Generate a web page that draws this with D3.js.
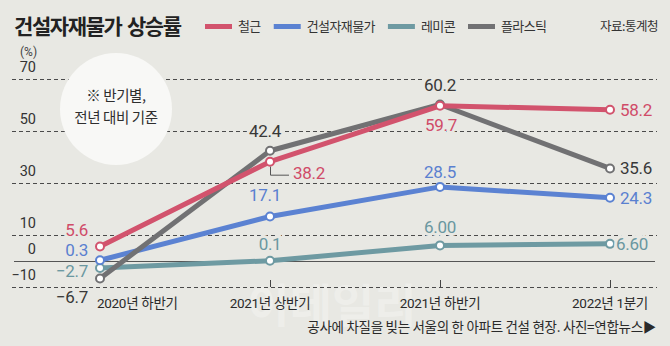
<!DOCTYPE html>
<html>
<head>
<meta charset="utf-8">
<script src="https://cdn.jsdelivr.net/npm/d3@7"></script>
<style>
  html, body { margin: 0; padding: 0; background: #e8e8e3; }
  svg { display: block; }
</style>
</head>
<body>
<svg id="chart"></svg>
<script>
// chart data
var categories = ['2020년 하반기', '2021년 상반기', '2021년 하반기', '2022년 1분기']
var seriesNames = ['철근', '건설자재물가', '레미콘', '플라스틱']
var rebar     = [5.6, 38.2, 59.7, 58.2]
var materials = [0.3, 17.1, 28.5, 24.3]
var remicon   = [-2.7, 0.1, 6.00, 6.60]
var plastic   = [-6.7, 42.4, 60.2, 35.6]
var remiconDigits = [1, 1, 2, 2]
var yTicks = [70, 50, 30, 10, 0, -10]

var W = 670, H = 346
var BG = '#e8e8e3'
var colors = { '철근':'#d2536d', '건설자재물가':'#5b82d2', '레미콘':'#6e9aa2', '플라스틱':'#717173' }
var labelColors = { '철근':'#d04b68', '건설자재물가':'#5a80d0', '레미콘':'#6a97a0', '플라스틱':'#383838' }
var NUM_FONT = "Roboto, 'Noto Sans CJK KR', sans-serif"
var KR_FONT = "'Noto Sans CJK KR', sans-serif"

var svg = d3.select('#chart').attr('width', W).attr('height', H)
svg.append('rect').attr('width', W).attr('height', H).attr('fill', BG)

var x = d3.scalePoint().domain(categories).range([100, 610])
var y = d3.scaleLinear().domain([0, 70]).range([261, 261 - 182])

// faint publisher watermark
svg.append('text')
    .attr('x', 332).attr('y', 322)
    .attr('text-anchor', 'middle')
    .attr('font-family', KR_FONT).attr('font-weight', 700)
    .attr('font-size', 46)
    .attr('fill', '#ffffff').attr('opacity', 0.28)
    .text('이데일리')

// gridlines
var grid = svg.append('g')
yTicks.forEach(function(t) {
    if (t === 0) return
    grid.append('line')
        .attr('x1', 12).attr('x2', 657)
        .attr('y1', y(t) + 0.5).attr('y2', y(t) + 0.5)
        .attr('stroke', '#4a4a4a').attr('stroke-width', 1)
        .attr('stroke-dasharray', '4,3')
})
grid.append('line')
    .attr('x1', 14).attr('x2', 655)
    .attr('y1', y(0) + 0.5).attr('y2', y(0) + 0.5)
    .attr('stroke', '#555').attr('stroke-width', 1.2)

// y tick labels
svg.append('g').selectAll('text').data(yTicks).enter().append('text')
    .attr('x', 36).attr('y', function(t) { return y(t) - 7 })
    .attr('text-anchor', 'end')
    .attr('font-family', NUM_FONT).attr('font-size', 14.5)
    .attr('fill', '#333')
    .text(function(t) { return t < 0 ? '−' + Math.abs(t) : t })

svg.append('text')
    .attr('x', 20).attr('y', 56)
    .attr('font-family', NUM_FONT).attr('font-size', 12)
    .attr('fill', '#444').text('(%)')

// x ticks + labels
categories.forEach(function(c, i) {
    if (i > 0) {
        svg.append('line')
            .attr('x1', x(c) + 0.5).attr('x2', x(c) + 0.5)
            .attr('y1', y(-10) - 7).attr('y2', y(-10))
            .attr('stroke', '#444').attr('stroke-width', 1)
    }
    svg.append('text')
        .attr('x', i === 0 ? 97 : x(c))
        .attr('y', 308)
        .attr('text-anchor', i === 0 ? 'start' : 'middle')
        .attr('font-family', NUM_FONT).attr('font-size', 13.5)
        .attr('letter-spacing', -0.3)
        .attr('fill', '#2a2a2a')
        .text(c)
})

// note bubble
svg.append('circle')
    .attr('cx', 116).attr('cy', 109).attr('r', 56)
    .attr('fill', '#f8f8f6')
svg.append('text')
    .attr('x', 116).attr('y', 101).attr('text-anchor', 'middle')
    .attr('font-family', KR_FONT).attr('font-size', 14.5)
    .attr('letter-spacing', -0.4).attr('fill', '#2e2e2e')
    .text('※ 반기별,')
svg.append('text')
    .attr('x', 116).attr('y', 123).attr('text-anchor', 'middle')
    .attr('font-family', KR_FONT).attr('font-size', 14.5)
    .attr('letter-spacing', -0.4).attr('fill', '#2e2e2e')
    .text('전년 대비 기준')

// series, drawn bottom to top
var series = [
    { name:'레미콘', values:remicon },
    { name:'건설자재물가', values:materials },
    { name:'플라스틱', values:plastic },
    { name:'철근', values:rebar }
]

// label placement per series: [anchor, dx, dy] for each point
var labelPos = {
    '철근':        [['end', -12, -10], ['start', 23, 17], ['start', -15, 25], ['start', 10, 6]],
    '건설자재물가': [['end', -12, -4], ['middle', -5, -16], ['middle', 0, -9], ['start', 10, 6]],
    '레미콘':       [['end', -12, 9], ['middle', 0, -11], ['middle', 0, -12], ['start', 6, 6]],
    '플라스틱':     [['end', -12, 25], ['middle', -5, -14], ['middle', 0, -13], ['start', 10, 6]]
}

var line = d3.line()
    .x(function(d, i) { return x(categories[i]) })
    .y(function(d) { return y(d) })

var labelLayer = svg.append('g')

series.forEach(function(s) {
    var g = svg.append('g')
    g.append('path')
        .datum(s.values)
        .attr('d', line)
        .attr('fill', 'none')
        .attr('stroke', colors[s.name])
        .attr('stroke-width', 5)
        .attr('stroke-linejoin', 'round')
    g.selectAll('circle').data(s.values).enter().append('circle')
        .attr('cx', function(d, i) { return x(categories[i]) })
        .attr('cy', function(d) { return y(d) })
        .attr('r', 4)
        .attr('fill', '#fff')
        .attr('stroke', colors[s.name])
        .attr('stroke-width', 2)

    s.values.forEach(function(v, i) {
        var p = labelPos[s.name][i]
        var digits = s.name === '레미콘' ? remiconDigits[i] : 1
        var txt = (v < 0 ? '−' : '') + Math.abs(v).toFixed(digits)
        labelLayer.append('text')
            .attr('x', x(categories[i]) + p[1])
            .attr('y', y(v) + p[2])
            .attr('text-anchor', p[0])
            .attr('font-family', NUM_FONT).attr('font-size', 17)
            .attr('letter-spacing', -0.3)
            .attr('fill', labelColors[s.name])
            .attr('stroke', BG).attr('stroke-width', 6)
            .attr('paint-order', 'stroke')
            .text(txt)
    })
})

// leader for the 2021 first-half rebar value
var lx = x(categories[1]), ly = y(rebar[1])
labelLayer.append('path')
    .attr('d', 'M' + (lx + 0.5) + ',' + (ly + 5) + 'V' + (ly + 13.5) + 'H' + (lx + 19))
    .attr('fill', 'none').attr('stroke', '#555').attr('stroke-width', 1)

labelLayer.raise()
// keep markers above the label halos
svg.selectAll('g circle').raise()

// title
svg.append('text')
    .attr('x', 14).attr('y', 34)
    .attr('font-family', KR_FONT).attr('font-weight', 700)
    .attr('font-size', 21).attr('letter-spacing', -1.4)
    .attr('word-spacing', 2)
    .attr('fill', '#222')
    .text('건설자재물가 상승률')

// legend
var lgX = 205
seriesNames.forEach(function(n) {
    svg.append('line')
        .attr('x1', lgX).attr('x2', lgX + 27)
        .attr('y1', 26.5).attr('y2', 26.5)
        .attr('stroke', colors[n]).attr('stroke-width', 5)
    var t = svg.append('text')
        .attr('x', lgX + 33).attr('y', 31)
        .attr('font-family', KR_FONT).attr('font-size', 13)
        .attr('letter-spacing', -0.6)
        .attr('fill', '#333')
        .text(n)
    lgX += 33 + t.node().getComputedTextLength() + 13
})
svg.append('text')
    .attr('x', 658).attr('y', 31)
    .attr('text-anchor', 'end')
    .attr('font-family', KR_FONT).attr('font-size', 12.5)
    .attr('letter-spacing', -0.5)
    .attr('fill', '#333')
    .text('자료:통계청')

// photo caption
svg.append('text')
    .attr('x', 656).attr('y', 332)
    .attr('text-anchor', 'end')
    .attr('font-family', KR_FONT).attr('font-size', 13.5)
    .attr('letter-spacing', -0.3)
    .attr('fill', '#2a2a2a')
    .text('공사에 차질을 빚는 서울의 한 아파트 건설 현장. 사진=연합뉴스▶')
</script>
</body>
</html>
